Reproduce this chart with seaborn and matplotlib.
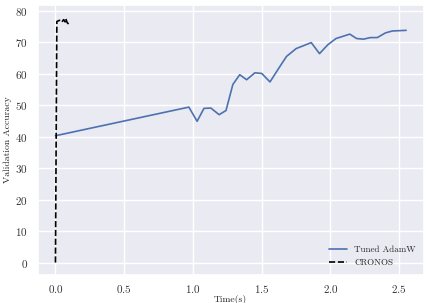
import pandas as pd
import seaborn as sns
import matplotlib
matplotlib.use('Agg')
import matplotlib.pyplot as plt

# Tuned AdamW run (time in s, val accuracy)
adamw_time = [0.0, 0.97, 1.03, 1.08, 1.13, 1.19, 1.24, 1.29, 1.34, 1.39, 1.45,
              1.50, 1.56, 1.62, 1.68, 1.75, 1.86, 1.92, 1.98, 2.04, 2.14,
              2.19, 2.24, 2.29, 2.34, 2.40, 2.45, 2.55]
adamw_acc = [40.3, 49.4, 44.9, 49.0, 49.1, 47.0, 48.3, 56.6, 59.7, 58.1, 60.3,
             60.1, 57.4, 61.5, 65.5, 68.0, 69.9, 66.4, 69.2, 71.2, 72.6,
             71.2, 71.0, 71.5, 71.5, 73.0, 73.6, 73.8]

# CRONOS run
cronos_time = [0.0, 0.01, 0.03, 0.045, 0.06, 0.07, 0.075, 0.085, 0.095]
cronos_acc = [0.0, 76.6, 77.0, 76.4, 77.2, 76.5, 77.5, 76.3, 75.8]

sns.set_theme(style='darkgrid')
plt.rcParams['font.family'] = 'serif'
plt.rcParams['font.serif'] = ['cmr10', 'DejaVu Serif']
plt.rcParams['axes.formatter.use_mathtext'] = True
plt.rcParams['mathtext.fontset'] = 'cm'

fig, ax = plt.subplots(figsize=(4.27, 3.03), dpi=100)
sns.lineplot(x=adamw_time, y=adamw_acc, ax=ax, color='#4c72b0', lw=1.2,
             label='Tuned AdamW', sort=False)
sns.lineplot(x=cronos_time, y=cronos_acc, ax=ax, color='black', lw=1.2,
             linestyle='--', label='CRONOS', sort=False)

ax.set_ylim(-4, 82)
ax.set_xlim(-0.13, 2.68)
ax.set_xticks([0.0, 0.5, 1.0, 1.5, 2.0, 2.5])
ax.set_yticks(range(0, 81, 10))
ax.tick_params(labelsize=8, colors='#333333', pad=1)
ax.tick_params(axis='x', pad=0)
ax.set_xlabel('Time(s)', fontsize=7, labelpad=0)
ax.set_ylabel('Validation Accuracy', fontsize=7, labelpad=2)
ax.legend(loc='lower right', fontsize=6.5, frameon=False)

plt.subplots_adjust(left=0.088, right=0.993, top=0.985, bottom=0.092)
plt.savefig('out.png')
plt.close()
